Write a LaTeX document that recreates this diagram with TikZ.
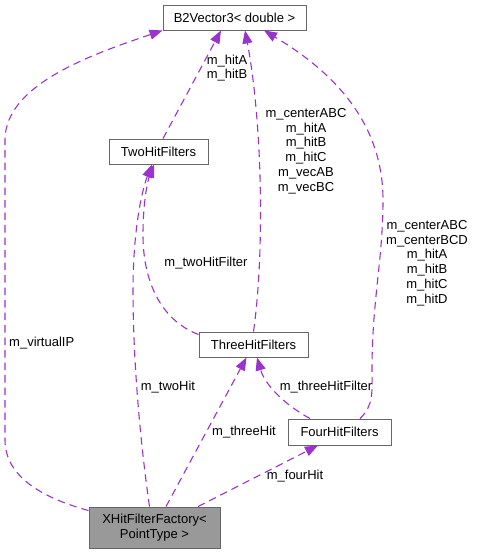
\documentclass[tikz,border=0pt]{standalone}
\usepackage{fontspec}
\setmainfont{Liberation Sans}
\usetikzlibrary{arrows.meta}
\definecolor{edgec}{HTML}{9A32CD}
\definecolor{boxc}{HTML}{666666}
\definecolor{fillc}{HTML}{999999}
\begin{document}
\begin{tikzpicture}[x=1pt,y=-1pt,
  cls/.style={draw=boxc, line width=0.9pt, fill=white, inner sep=0pt, font=\fontsize{13}{14.8}\selectfont, align=center},
  rel/.style={draw=edgec, line width=1.1pt, dash pattern=on 7.5pt off 5pt, -{Triangle[length=13pt,width=10pt]}},
  lbl/.style={font=\fontsize{13}{14.8}\selectfont, align=center, inner sep=0pt}]
\useasboundingbox (0,0) rectangle (476,553);
\node[cls, minimum width=143pt, minimum height=25pt] (b2) at (234.5,17.5) {B2Vector3< double >};
\node[cls, minimum width=99pt, minimum height=25pt] (twohit) at (158.5,151.5) {TwoHitFilters};
\node[cls, minimum width=109pt, minimum height=25pt] (three) at (253.5,344.5) {ThreeHitFilters};
\node[cls, minimum width=103pt, minimum height=26pt] (four) at (339.5,432) {FourHitFilters};
\node[cls, fill=fillc, minimum width=131pt, minimum height=41pt] (xhit) at (154.5,527.5) {XHitFilterFactory<\\PointType >};
% m_virtualIP
\draw[rel] ([yshift=-4pt]xhit.north west) .. controls (50,500) and (5,480) .. (5,440) -- (5,140) .. controls (5,85) and (90,55) .. (b2.south west);
\node[lbl, anchor=west] (l1) at (9,343) {m\_virtualIP};
% m_hitA m_hitB
\draw[rel] ([xshift=4.5pt]twohit.north) -- ([xshift=-13.5pt]b2.south);
\node[lbl] (l2) at (227,68) {m\_hitA\\m\_hitB};
% three -> b2
\draw[rel] (three.north) .. controls (265,250) and (262,120) .. ([xshift=10.5pt]b2.south);
\node[lbl] (l3) at (306,151) {m\_centerABC\\m\_hitA\\m\_hitB\\m\_hitC\\m\_vecAB\\m\_vecBC};
% four -> b2
\draw[rel] ([xshift=20.5pt]four.north) .. controls (374,405) and (372,392) .. (372,370) .. controls (372,300) and (383,260) .. (383,200) .. controls (383,120) and (330,70) .. ([xshift=29.5pt]b2.south);
\node[lbl] (l4) at (427,263) {m\_centerABC\\m\_centerBCD\\m\_hitA\\m\_hitB\\m\_hitC\\m\_hitD};
% three -> twohit
\draw[rel] ([yshift=10pt]three.west) .. controls (160,320) and (143,280) .. (143,235) .. controls (143,200) and (148,180) .. ([xshift=-4.5pt]twohit.south);
\node[lbl] (l5) at (206,263) {m\_twoHitFilter};
% xhit -> twohit
\draw[rel] ([xshift=-5pt]xhit.north) .. controls (140,440) and (133,360) .. (133,290) .. controls (133,230) and (142,190) .. ([xshift=-6.5pt]twohit.south);
\node[lbl] (l6) at (168,387) {m\_twoHit};
% xhit -> three
\draw[rel] ([xshift=11.5pt]xhit.north) -- ([xshift=-7pt]three.south);
\node[lbl] (l7) at (244,432) {m\_threeHit};
% four -> three
\draw[rel] ([xshift=-29.5pt]four.north) .. controls (285,405) and (265,385) .. ([xshift=3.5pt]three.south);
\node[lbl] (l8) at (326,387) {m\_threeHitFilter};
% xhit -> four
\draw[rel] ([xshift=43.5pt]xhit.north) -- ([xshift=-21.5pt]four.south);
\node[lbl] (l9) at (295,476) {m\_fourHit};
\end{tikzpicture}
\end{document}
